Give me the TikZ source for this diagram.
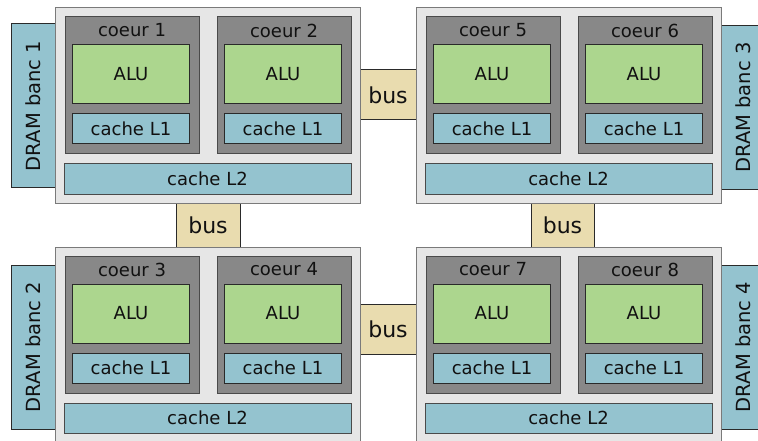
\documentclass[tikz,border=0pt]{standalone}
\usepackage{fontspec}
\setmainfont{DejaVu Sans}
\definecolor{chipfill}{HTML}{E6E6E6}
\definecolor{chipdraw}{HTML}{7A7A7A}
\definecolor{corefill}{HTML}{888888}
\definecolor{coredraw}{HTML}{4A4A4A}
\definecolor{alufill}{HTML}{ACD68E}
\definecolor{cachefill}{HTML}{94C3CF}
\definecolor{busfill}{HTML}{E9DCAF}
\definecolor{darkline}{HTML}{2A2A2A}
\definecolor{txt}{HTML}{111111}
\tikzset{
  base/.style={inner sep=0pt, outer sep=0pt, line width=1pt, text=txt, font=\fontsize{18}{21}\selectfont},
  chipbox/.style={base, draw=chipdraw, fill=chipfill, minimum width=305pt, minimum height=195pt},
  corebox/.style={base, draw=coredraw, fill=corefill, minimum width=134pt, minimum height=137pt},
  alubox/.style={base, draw=darkline, fill=alufill, minimum width=117pt, minimum height=59pt},
  lonebox/.style={base, draw=darkline, fill=cachefill, minimum width=117pt, minimum height=30pt},
  ltwobox/.style={base, draw=coredraw, fill=cachefill, minimum width=287pt, minimum height=30pt},
  corelabel/.style={base, anchor=center},
  busbox/.style={base, draw=darkline, fill=busfill, font=\fontsize{22}{25}\selectfont},
  drambox/.style={base, draw=darkline, fill=cachefill, rotate=90, minimum width=164pt, minimum height=44pt, font=\fontsize{19.5}{22}\selectfont},
}
\newcommand\chipblock[5]{%
\begin{scope}[shift={(#2,#3)}]
\node[chipbox] (#1) at (152.5,97.5) {};
\node[corebox] (core#4) at (77,77.5) {};
\node[corebox] (core#5) at (229,77.5) {};
\node[corelabel] (lab#4) at (77,22.5) {coeur #4};
\node[corelabel] (lab#5) at (229,22.5) {coeur #5};
\node[alubox] (alu#4) at (76,66.5) {ALU};
\node[alubox] (alu#5) at (228,66.5) {ALU};
\node[lonebox] (lone#4) at (76,121) {cache L1};
\node[lonebox] (lone#5) at (228,121) {cache L1};
\node[ltwobox] (#1l2) at (152.5,171) {cache L2};
\end{scope}}
\begin{document}
\begin{tikzpicture}[x=1pt,y=-1pt]
\useasboundingbox (0,0) rectangle (758,441);
% DRAM banks
\node[drambox] (dram1) at (33,106) {DRAM banc 1};
\node[drambox] (dram2) at (33,347) {DRAM banc 2};
\node[drambox] (dram3) at (743,107.5) {DRAM banc 3};
\node[drambox] (dram4) at (743,347) {DRAM banc 4};
% buses
\node[busbox, minimum width=56pt, minimum height=50pt] (bustop) at (388,95) {bus};
\node[busbox, minimum width=56pt, minimum height=50pt] (busbot) at (388,329) {bus};
\node[busbox, minimum width=64pt, minimum height=44pt] (busleft) at (208,225) {bus};
\node[busbox, minimum width=63pt, minimum height=44pt] (busright) at (562.5,225) {bus};
% chips
\chipblock{chipA}{55}{8}{1}{2}
\chipblock{chipB}{416}{8}{5}{6}
\chipblock{chipC}{55}{247}{3}{4}
\chipblock{chipD}{416}{247}{7}{8}
\end{tikzpicture}
\end{document}
